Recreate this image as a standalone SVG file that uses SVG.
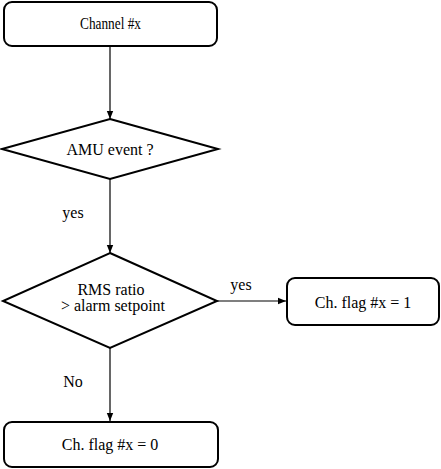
<svg xmlns="http://www.w3.org/2000/svg" width="441" height="469" viewBox="0 0 441 469">
<style>
.box{fill:#fff;stroke:#000;stroke-width:2}
.t{font-family:'Liberation Serif','Times New Roman',Times,serif;font-size:16px;fill:#000;text-anchor:middle}
.c{stroke:#000;stroke-width:1.2;fill:none;marker-end:url(#ah)}
</style>
<defs>
<marker id="ah" viewBox="0 0 10 10" refX="10" refY="5" markerWidth="10" markerHeight="8" markerUnits="userSpaceOnUse" orient="auto">
<path d="M0,1 L10,5 L0,9 z" fill="#000"/>
</marker>
</defs>
<rect width="441" height="469" fill="#fff"/>
<g id="connectors">
<line class="c" x1="110" y1="47" x2="110" y2="119"/>
<line class="c" x1="110" y1="179" x2="110" y2="253"/>
<line class="c" x1="217" y1="301" x2="286" y2="301"/>
<line class="c" x1="110" y1="348" x2="110" y2="421"/>
<text class="t" x="73" y="218">yes</text>
<text class="t" x="241" y="290">yes</text>
<text class="t" x="73" y="387">No</text>
</g>
<g id="start">
<rect class="box" x="4" y="2" width="213" height="44" rx="8"/>
<text class="t" x="110.5" y="29" style="font-size:17px" textLength="61" lengthAdjust="spacingAndGlyphs">Channel #x</text>
</g>
<g id="amu">
<polygon class="box" points="110,119 218,149 110,179 2,149"/>
<text class="t" x="110" y="155">AMU event ?</text>
</g>
<g id="rms">
<polygon class="box" points="110,253 217,301 110,348 3,301"/>
<text class="t" x="111" y="295">RMS ratio</text>
<text class="t" x="113" y="311">&gt; alarm setpoint</text>
</g>
<g id="flag1">
<rect class="box" x="287" y="278" width="152" height="47" rx="8"/>
<text class="t" x="363" y="308">Ch. flag #x = 1</text>
</g>
<g id="flag0">
<rect class="box" x="4" y="422" width="214" height="45" rx="8"/>
<text class="t" x="110" y="450">Ch. flag #x = 0</text>
</g>
</svg>
